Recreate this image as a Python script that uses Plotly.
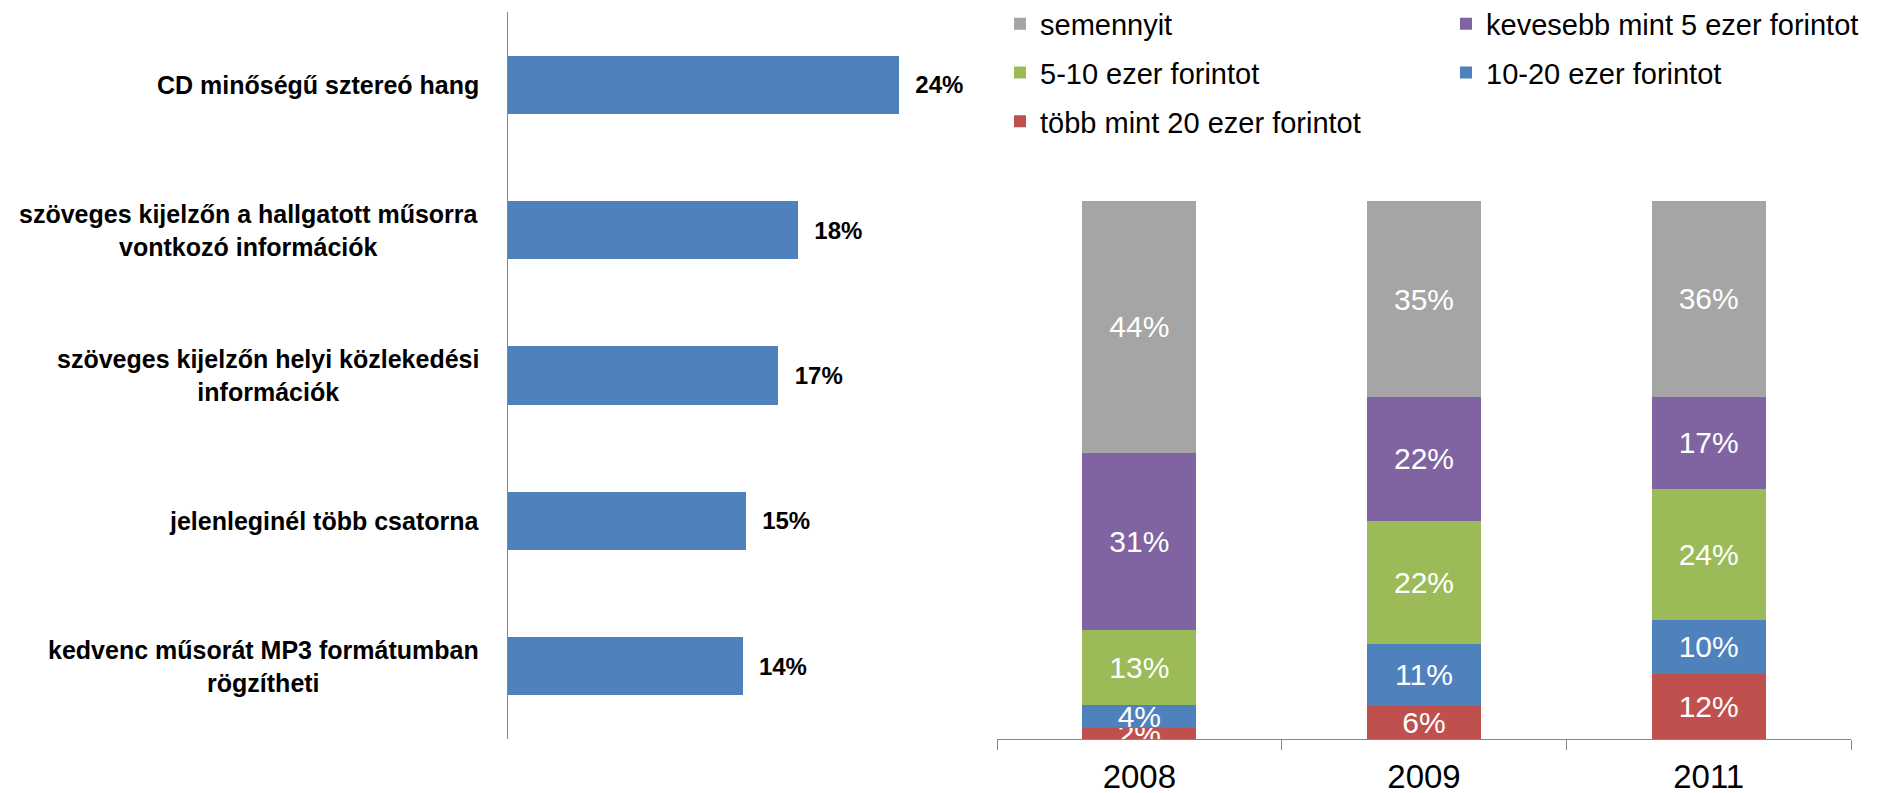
import plotly.graph_objects as go

# left chart: desired features (share of respondents)
features = [
    "CD minőségű sztereó hang",
    "szöveges kijelzőn a hallgatott műsorra<br>vontkozó információk",
    "szöveges kijelzőn helyi közlekedési<br>információk",
    "jelenleginél több csatorna",
    "kedvenc műsorát MP3 formátumban<br>rögzítheti",
]
feature_share = [0.24, 0.178, 0.166, 0.146, 0.144]

# right chart: how much would they pay
years = ["2008", "2009", "2011"]
tobb_20 = [2, 6, 12]
ezer_10_20 = [4, 11, 10]
ezer_5_10 = [13, 22, 24]
kevesebb_5 = [31, 22, 17]
semennyit = [44, 35, 36]

# name, values, colour, legend box, row in legend
series = [
    ("több mint 20 ezer forintot", tobb_20, "#C0504D", "legend", 3),
    ("10-20 ezer forintot", ezer_10_20, "#4F81BD", "legend2", 2),
    ("5-10 ezer forintot", ezer_5_10, "#9BBB59", "legend", 2),
    ("kevesebb mint 5 ezer forintot", kevesebb_5, "#8064A2", "legend2", 1),
    ("semennyit", semennyit, "#A5A5A5", "legend", 1),
]

FONT = "Liberation Sans, Arial, sans-serif"
# the page body adds an 8px margin, so the figure is a bit smaller than the window
OFF = 8
W, H = 1884 - OFF, 793 - OFF


def px(x):
    return (x - OFF) / W


def py(y):
    return 1 - (y - OFF) / H


totals = [sum(s[1][i] for s in series) for i in range(len(years))]

fig = go.Figure()

fig.add_trace(go.Bar(
    x=feature_share, y=features, orientation="h",
    marker_color="#4F81BD", marker_line_width=0,
    texttemplate="\u00a0\u00a0%{x:.0%}", textposition="outside",
    textfont=dict(family=FONT, size=24, color="black", weight="bold"),
    constraintext="none", cliponaxis=False,
    showlegend=False, xaxis="x", yaxis="y",
))

for name, vals, color, leg, rank in series:
    share = [v / t * 100 for v, t in zip(vals, totals)]
    fig.add_trace(go.Bar(
        x=years, y=share, name=name, marker_color=color, marker_line_width=0,
        text=[f"{v}%" for v in vals], textposition="inside", textangle=0,
        insidetextanchor="middle", constraintext="none",
        insidetextfont=dict(family=FONT, size=30, color="white"),
        legend=leg, legendgroup=name, legendrank=rank, xaxis="x2", yaxis="y2",
    ))

# category labels for the left chart (centred multi-line text)
for f in features:
    fig.add_annotation(
        x=px(481), xref="paper", y=f, yref="y", xanchor="right", align="center",
        text=f, showarrow=False,
        font=dict(family=FONT, size=25, color="black", weight="bold"),
    )

legend_style = dict(
    font=dict(family=FONT, size=29, color="black"),
    yanchor="top", xanchor="left", traceorder="grouped",
    tracegroupgap=8, bgcolor="rgba(0,0,0,0)",
)

fig.update_layout(
    width=W, height=H, autosize=False,
    margin=dict(l=0, r=0, t=0, b=0, autoexpand=False),
    paper_bgcolor="white", plot_bgcolor="white",
    barmode="stack", bargap=0.6,
    xaxis=dict(domain=[px(508), px(990)], range=[0, 482 / 1629], visible=False),
    yaxis=dict(domain=[py(739), py(12)], range=[len(features) - 0.5, -0.5],
               showticklabels=False, showline=True, linecolor="#868686", linewidth=1,
               showgrid=False, zeroline=False, ticks=""),
    xaxis2=dict(domain=[px(997), px(1851)], anchor="y2", showline=True,
                linecolor="#868686", linewidth=1, ticks="outside", ticklen=10,
                tickcolor="#868686", tickson="boundaries", showgrid=False,
                automargin=False,
                tickfont=dict(family=FONT, size=33, color="black"), ticklabelstandoff=8),
    yaxis2=dict(domain=[py(739.3), py(201)], range=[0, 100], anchor="x2",
                visible=False),
    legend=dict(x=px(1000), y=py(-1.5), **legend_style),
    legend2=dict(x=px(1446), y=py(-1.5), **legend_style),
)

fig.write_html("out.html")
